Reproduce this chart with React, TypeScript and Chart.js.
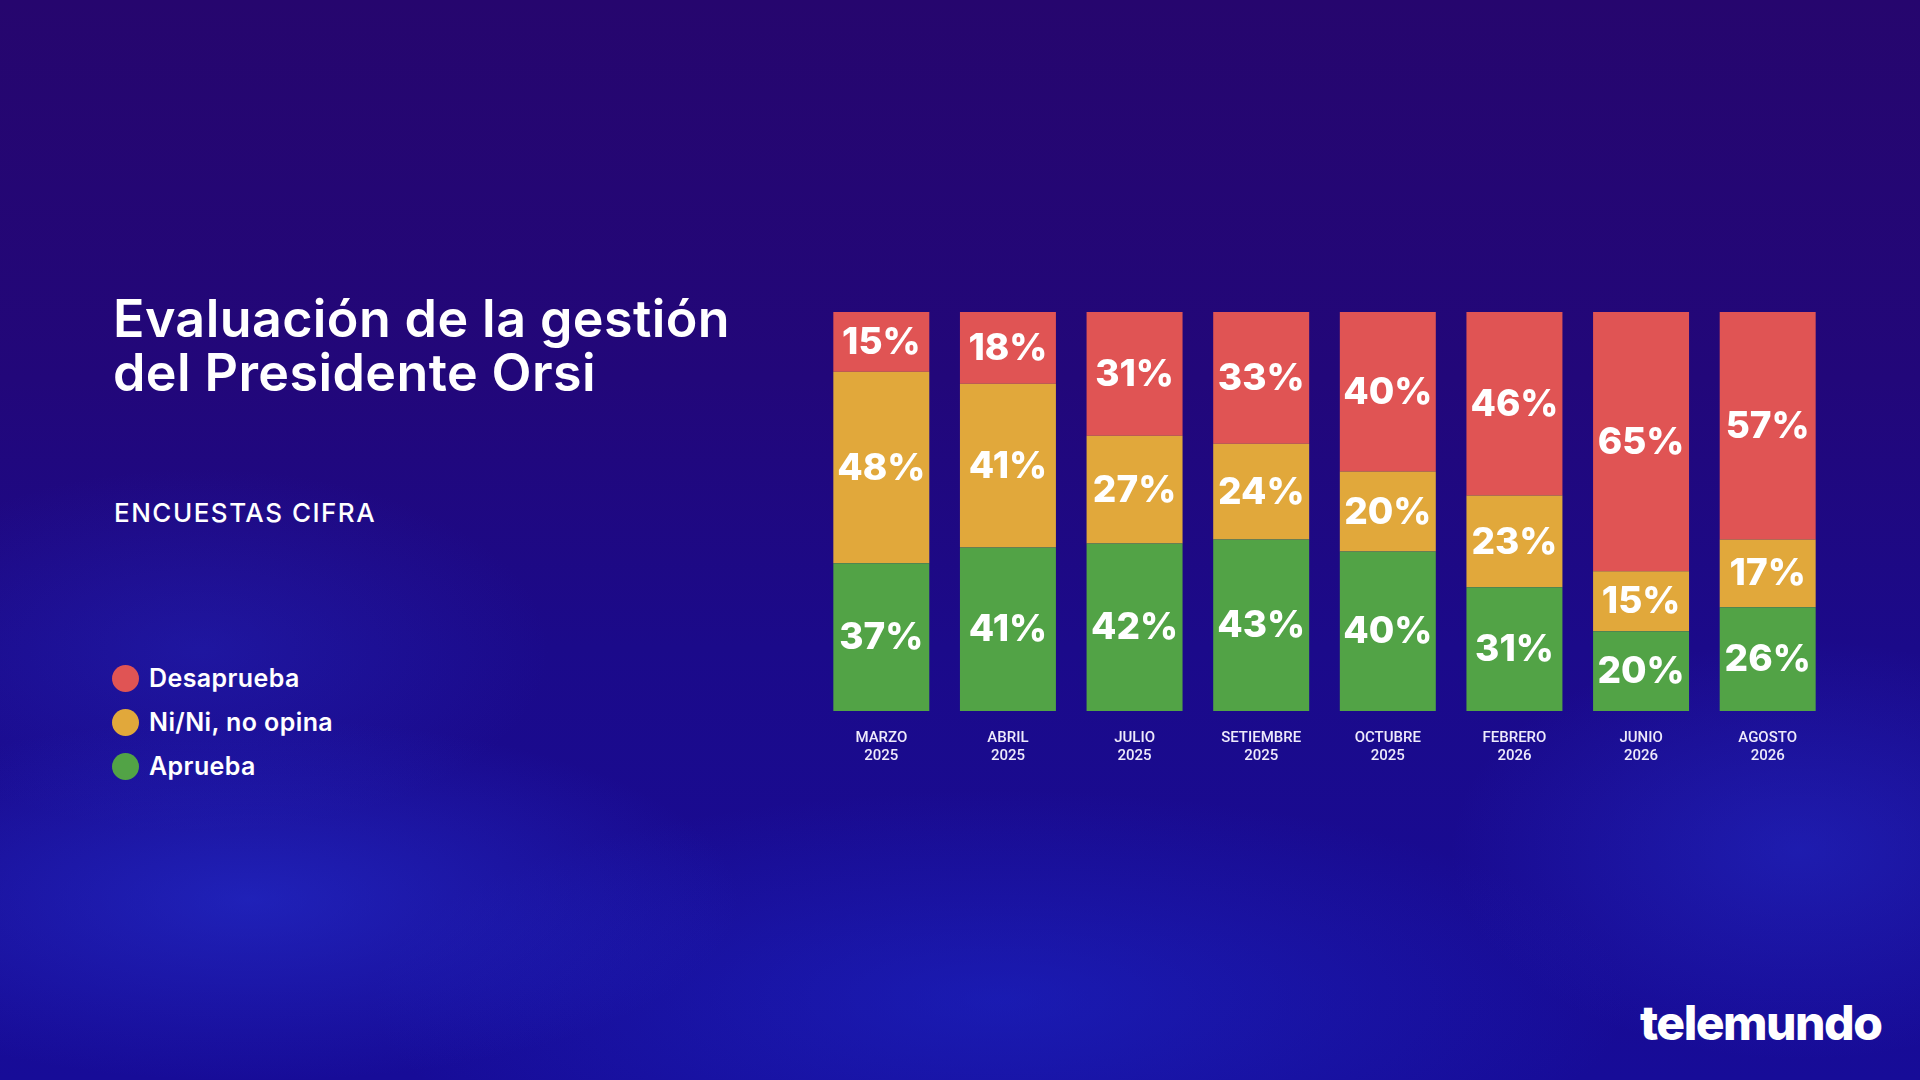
import React, { useEffect, useRef } from "react";
import { Chart, registerables } from "chart.js";

Chart.register(...registerables);

const categories: string[][] = [
  ["MARZO", "2025"],
  ["ABRIL", "2025"],
  ["JULIO", "2025"],
  ["SETIEMBRE", "2025"],
  ["OCTUBRE", "2025"],
  ["FEBRERO", "2026"],
  ["JUNIO", "2026"],
  ["AGOSTO", "2026"],
];
const desaprueba = [15, 18, 31, 33, 40, 46, 65, 57];
const nini = [48, 41, 27, 24, 20, 23, 15, 17];
const aprueba = [37, 41, 42, 43, 40, 31, 20, 26];

const seriesNames = ["Desaprueba", "Ni/Ni, no opina", "Aprueba"];
const RED = "#E05454";
const YELLOW = "#E1A83B";
const GREEN = "#52A346";
const seriesColors = [RED, YELLOW, GREEN];

const segmentLabels = {
  id: "segmentLabels",
  afterDatasetsDraw(chart: any) {
    const ctx = chart.ctx;
    ctx.save();
    ctx.fillStyle = "#ffffff";
    ctx.font = "800 37px Inter";
    ctx.textAlign = "center";
    ctx.textBaseline = "middle";
    chart.data.datasets.forEach((ds: any, di: number) => {
      const meta = chart.getDatasetMeta(di);
      meta.data.forEach((el: any, i: number) => {
        const v = ds.data[i];
        const y = (el.y + el.base) / 2;
        ctx.fillText(v + "%", el.x, y + 1);
      });
    });
    ctx.restore();
  },
};

function BarChart() {
  const ref = useRef<HTMLCanvasElement>(null);
  useEffect(() => {
    if (!ref.current) return;
    const chart = new Chart(ref.current, {
      type: "bar",
      data: {
        labels: categories,
        datasets: [
          { label: seriesNames[2], data: aprueba, backgroundColor: GREEN },
          { label: seriesNames[1], data: nini, backgroundColor: YELLOW },
          { label: seriesNames[0], data: desaprueba, backgroundColor: RED },
        ],
      },
      options: {
        animation: false,
        responsive: false,
        maintainAspectRatio: false,
        layout: { padding: 0 },
        datasets: {
          bar: { barPercentage: 0.758, categoryPercentage: 1, borderWidth: 0 },
        },
        plugins: {
          legend: { display: false },
          tooltip: { enabled: false },
        },
        scales: {
          x: {
            stacked: true,
            grid: { display: false },
            border: { display: false },
            ticks: {
              color: "#EEEAFB",
              font: { family: "Roboto", size: 15, weight: 500, lineHeight: 1.2 },
              padding: 10,
              maxRotation: 0,
              autoSkip: false,
            },
          },
          y: {
            stacked: true,
            display: false,
            min: 0,
            max: 100,
          },
        },
      },
      plugins: [segmentLabels],
    });
    return () => chart.destroy();
  }, []);
  return (
    <canvas
      ref={ref}
      width={1013}
      height={463}
      style={{ position: "absolute", left: 817.5, top: 312, width: 1013, height: 463 }}
    />
  );
}

export default function App() {
  const legendRows = [
    { name: seriesNames[0], color: seriesColors[0], cy: 678 },
    { name: seriesNames[1], color: seriesColors[1], cy: 722 },
    { name: seriesNames[2], color: seriesColors[2], cy: 766 },
  ];
  return (
    <div
      style={{
        position: "absolute",
        left: 0,
        top: 0,
        width: 1920,
        height: 1080,
        overflow: "hidden",
        fontFamily: "Inter, sans-serif",
        color: "#ffffff",
        background:
          "radial-gradient(ellipse 700px 260px at 250px 900px, rgba(40,60,230,0.45), rgba(40,60,230,0) 70%)," +
          "radial-gradient(ellipse 900px 300px at 1000px 1000px, rgba(30,50,220,0.40), rgba(30,50,220,0) 70%)," +
          "radial-gradient(ellipse 500px 300px at 1800px 850px, rgba(40,60,230,0.35), rgba(40,60,230,0) 70%)," +
          "radial-gradient(ellipse 500px 260px at 200px 650px, rgba(40,50,210,0.30), rgba(40,50,210,0) 70%)," +
          "linear-gradient(180deg, #26066E 0%, #22077A 35%, #1B0A8A 60%, #170C98 100%)",
      }}
    >
      <div
        style={{
          position: "absolute",
          left: 113,
          top: 292,
          fontSize: 52,
          lineHeight: "54px",
          fontWeight: 600,
          letterSpacing: "0.4px",
          whiteSpace: "nowrap",
        }}
      >
        Evaluación de la gestión
        <br />
        del Presidente Orsi
      </div>
      <div
        style={{
          position: "absolute",
          left: 114,
          top: 500,
          fontSize: 26,
          lineHeight: 1,
          fontWeight: 500,
          letterSpacing: "1.5px",
          whiteSpace: "nowrap",
        }}
      >
        ENCUESTAS CIFRA
      </div>
      {legendRows.map((r) => (
        <div
          key={r.name}
          style={{
            position: "absolute",
            left: 112,
            top: r.cy - 20,
            height: 40,
            display: "flex",
            alignItems: "center",
            whiteSpace: "nowrap",
          }}
        >
          <span
            style={{
              display: "inline-block",
              width: 27,
              height: 27,
              borderRadius: "50%",
              background: r.color,
              marginRight: 10,
            }}
          />
          <span style={{ fontSize: 25, lineHeight: 1, fontWeight: 600, letterSpacing: "0.4px" }}>{r.name}</span>
        </div>
      ))}
      <BarChart />
      <div
        style={{
          position: "absolute",
          left: 1640,
          top: 995,
          fontSize: 48,
          lineHeight: "56px",
          fontWeight: 800,
          letterSpacing: "-1.5px",
          whiteSpace: "nowrap",
        }}
      >
        telemundo
      </div>
    </div>
  );
}
